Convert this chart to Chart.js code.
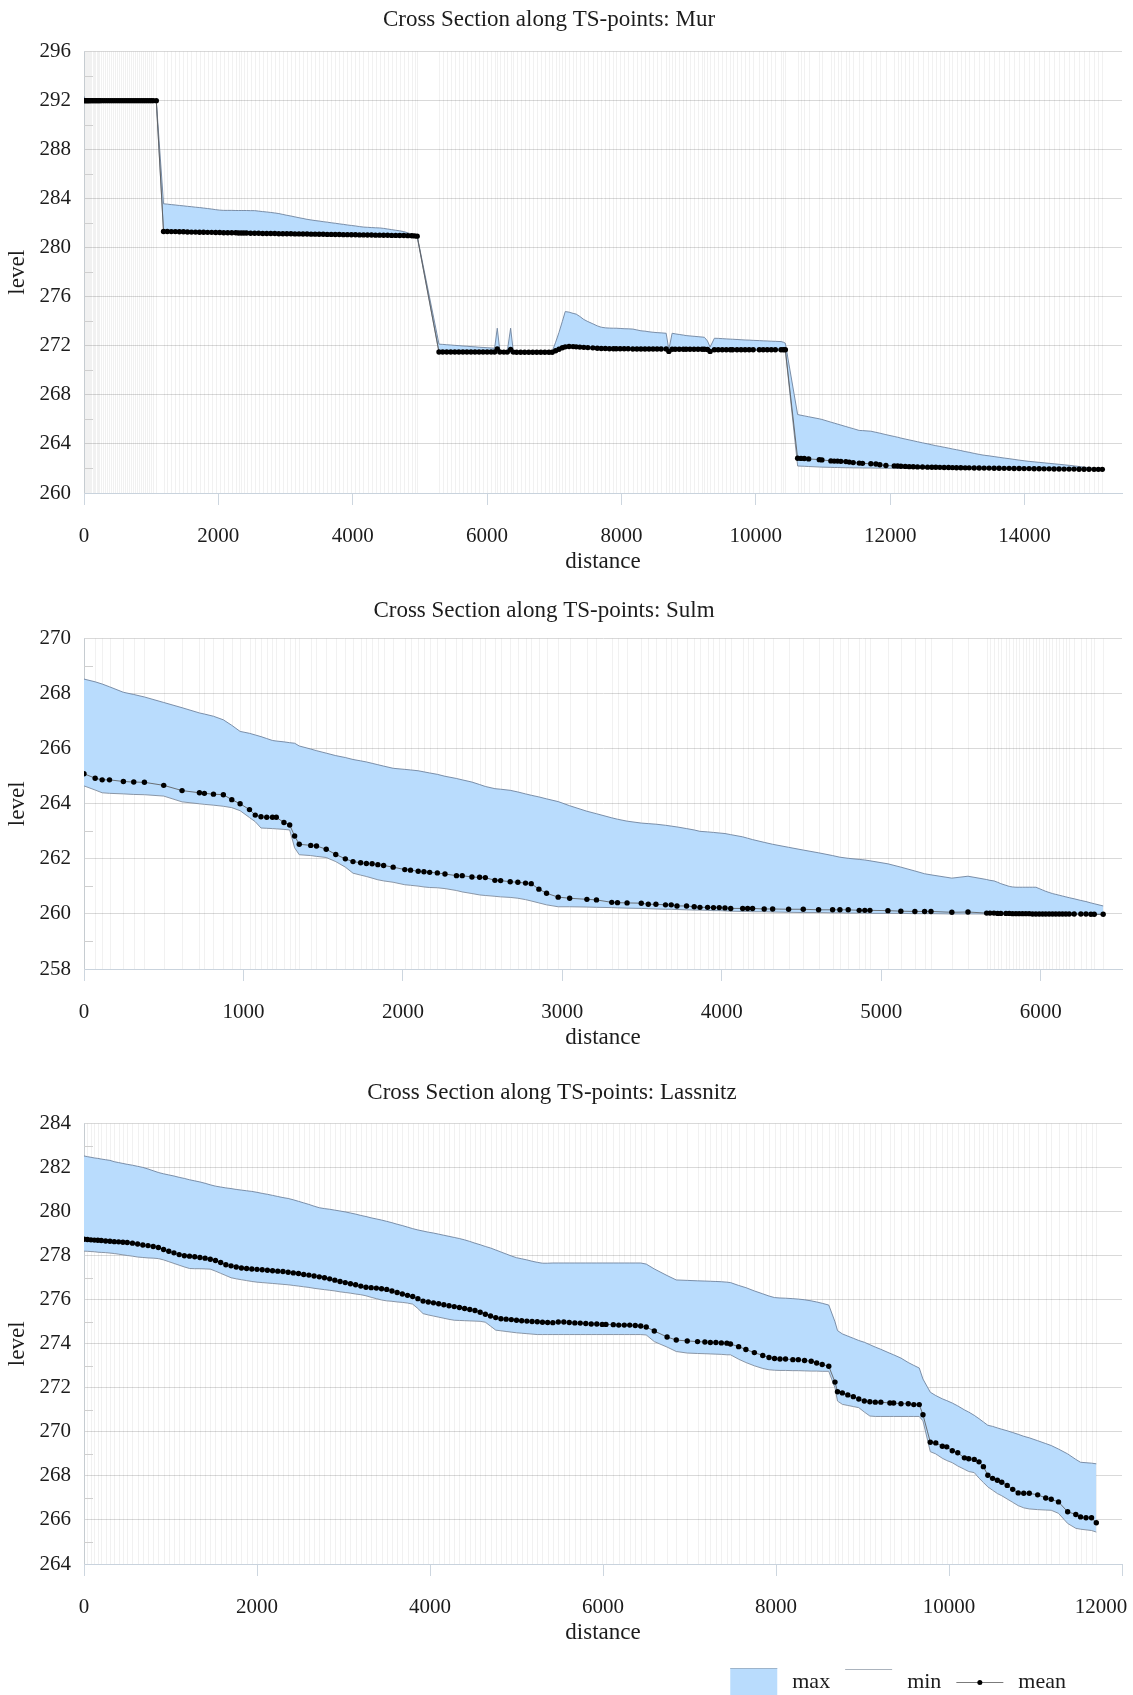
<!DOCTYPE html>
<html>
<head>
<meta charset="utf-8">
<title>Cross Sections along TS-points</title>
<script src="https://cdn.jsdelivr.net/npm/chart.js@4.4.1/dist/chart.umd.min.js"></script>
<style>
  html, body { margin: 0; padding: 0; background: #fff; }
  #page { position: relative; width: 1133px; height: 1695px; overflow: hidden; }
  #page canvas { position: absolute; left: 0; }
</style>
</head>
<body>
<div id="page">
  <canvas id="chartMur" width="1133" height="581" style="top:0px"></canvas>
  <canvas id="chartSulm" width="1133" height="476" style="top:581px"></canvas>
  <canvas id="chartLassnitz" width="1133" height="638" style="top:1057px"></canvas>
</div>
<script>
// ---------------- Mur ----------------
const murDistance = [
  0, 15, 30, 45, 60, 75, 90, 110, 130, 150,
  170, 190, 210, 230, 250, 280, 310, 340, 370, 400,
  430, 460, 490, 520, 550, 580, 610, 640, 670, 700,
  730, 760, 790, 820, 850, 880, 910, 940, 970, 1000,
  1030, 1076,
  1184, 1240, 1300, 1360, 1420, 1480, 1540, 1600, 1660, 1720,
  1780, 1840, 1900, 1960, 2020, 2080, 2140, 2200, 2260, 2300,
  2340, 2380, 2420, 2480, 2540, 2600, 2660, 2720, 2780, 2840,
  2900, 2960, 3020, 3080, 3140, 3200, 3260, 3320, 3380, 3440,
  3500, 3560, 3620, 3680, 3740, 3800, 3860, 3920, 3980, 4040,
  4100, 4160, 4220, 4280, 4340, 4400, 4460, 4520, 4580, 4640,
  4700, 4760, 4820, 4880, 4920, 4959,
  5284, 5340, 5400, 5460, 5520, 5580, 5640, 5700, 5760, 5820,
  5880, 5940, 6000, 6060, 6112, 6151, 6190, 6250, 6300, 6350,
  6390, 6440, 6500, 6560, 6620, 6680, 6740, 6800, 6860, 6920,
  6969, 7020, 7070, 7120, 7163, 7220, 7280, 7326, 7380, 7440,
  7500, 7574, 7640, 7700, 7760, 7820, 7880, 7921, 7980, 8040,
  8100, 8169, 8230, 8290, 8350, 8410, 8470, 8530, 8590, 8665,
  8705, 8754, 8800, 8860, 8920, 8962, 9020, 9080, 9140, 9200,
  9234, 9280, 9319, 9383, 9440, 9500, 9560, 9620, 9655, 9720,
  9780, 9840, 9900, 9960, 10052, 10110, 10170, 10230, 10290, 10375,
  10410, 10439,
  10622, 10672, 10721, 10786, 10944, 10983, 11117, 11167, 11216, 11266,
  11340, 11390, 11449, 11539, 11588, 11712, 11787, 11846, 11936, 12060,
  12110, 12159, 12224, 12283, 12343, 12407, 12481, 12556, 12620, 12679,
  12739, 12803, 12868, 12927, 12987, 13051, 13116, 13175, 13250, 13324,
  13398, 13472, 13547, 13621, 13696, 13770, 13844, 13919, 13993, 14067,
  14142, 14216, 14290, 14365, 14439, 14513, 14588, 14662, 14736, 14811,
  14885, 14959, 15034, 15098, 15157
];
const murMax = [
  292.35, 292.1, 292, 292, 292, 292, 292, 292, 292, 292,
  292, 292, 292, 292, 292, 292, 292, 292, 292, 292,
  292, 292, 292, 292, 292, 292, 292, 292, 292, 292,
  292, 292, 292, 292, 292, 292, 292, 292, 292, 292,
  292, 292,
  283.59, 283.56, 283.52, 283.49, 283.45, 283.42, 283.38, 283.35, 283.31, 283.28,
  283.24, 283.2, 283.16, 283.11, 283.07, 283.05, 283.05, 283.05, 283.04, 283.04,
  283.04, 283.04, 283.04, 283.03, 283.03, 282.99, 282.95, 282.92, 282.88, 282.84,
  282.79, 282.72, 282.65, 282.59, 282.52, 282.45, 282.39, 282.32, 282.27, 282.22,
  282.18, 282.13, 282.09, 282.04, 282.0, 281.95, 281.91, 281.86, 281.82, 281.78,
  281.73, 281.69, 281.67, 281.65, 281.63, 281.62, 281.58, 281.53, 281.48, 281.43,
  281.38, 281.32, 281.22, 281.11, 281.04, 280.98,
  272.14, 272.12, 272.09, 272.07, 272.04, 272.02, 271.99, 271.97, 271.94, 271.92,
  271.89, 271.87, 271.85, 271.83, 271.81, 273.44, 271.6, 271.55, 271.55, 273.44,
  271.55, 271.53, 271.53, 271.53, 271.53, 271.53, 271.53, 271.53, 271.53, 271.53,
  271.55, 272.3, 273.1, 274.0, 274.8, 274.75, 274.65, 274.59, 274.4, 274.15,
  273.98, 273.8, 273.63, 273.52, 273.47, 273.45, 273.44, 273.44, 273.42, 273.4,
  273.39, 273.37, 273.3, 273.23, 273.2, 273.15, 273.11, 273.08, 273.06, 273.03,
  271.7, 273.03, 272.98, 272.93, 272.88, 272.84, 272.81, 272.78, 272.75, 272.72,
  272.7, 272.4, 271.9, 272.62, 272.61, 272.59, 272.57, 272.55, 272.54, 272.52,
  272.5, 272.48, 272.47, 272.45, 272.43, 272.41, 272.4, 272.38, 272.37, 272.35,
  272.3, 272.22,
  266.4, 266.34, 266.29, 266.22, 266.05, 266.0, 265.78, 265.7, 265.62, 265.54,
  265.42, 265.34, 265.25, 265.1, 265.09, 265.04, 264.95, 264.88, 264.76, 264.61,
  264.55, 264.48, 264.4, 264.33, 264.26, 264.18, 264.09, 264.01, 263.93, 263.86,
  263.8, 263.73, 263.66, 263.59, 263.53, 263.46, 263.38, 263.32, 263.23, 263.15,
  263.08, 263.03, 262.97, 262.91, 262.85, 262.8, 262.74, 262.68, 262.63, 262.58,
  262.54, 262.5, 262.46, 262.42, 262.38, 262.34, 262.3, 262.26, 262.21, 262.16,
  262.11, 262.06, 262.0, 261.96, 261.93
];
const murMin = [
  292, 292, 292, 292, 292, 292, 292, 292, 292, 292,
  292, 292, 292, 292, 292, 292, 292, 292, 292, 292,
  292, 292, 292, 292, 292, 292, 292, 292, 292, 292,
  292, 292, 292, 292, 292, 292, 292, 292, 292, 292,
  292, 292,
  281.26, 281.26, 281.25, 281.25, 281.24, 281.24, 281.22, 281.21, 281.21, 281.2,
  281.2, 281.19, 281.19, 281.18, 281.17, 281.16, 281.16, 281.15, 281.15, 281.14,
  281.14, 281.13, 281.13, 281.12, 281.11, 281.11, 281.1, 281.1, 281.09, 281.09,
  281.08, 281.08, 281.07, 281.07, 281.06, 281.06, 281.05, 281.05, 281.04, 281.04,
  281.03, 281.03, 281.02, 281.02, 281.01, 281.01, 281.0, 281.0, 280.99, 280.99,
  280.98, 280.98, 280.97, 280.97, 280.96, 280.96, 280.95, 280.95, 280.94, 280.94,
  280.93, 280.93, 280.92, 280.92, 280.91, 280.9,
  271.45, 271.45, 271.45, 271.45, 271.45, 271.45, 271.45, 271.45, 271.45, 271.45,
  271.45, 271.45, 271.45, 271.45, 271.45, 271.45, 271.44, 271.44, 271.44, 271.44,
  271.43, 271.43, 271.43, 271.43, 271.43, 271.43, 271.43, 271.43, 271.43, 271.43,
  271.43, 271.52, 271.64, 271.76, 271.84, 271.87, 271.86, 271.84, 271.82, 271.8,
  271.78, 271.76, 271.73, 271.72, 271.71, 271.7, 271.7, 271.69, 271.69, 271.69,
  271.69, 271.67, 271.67, 271.67, 271.67, 271.67, 271.67, 271.67, 271.67, 271.67,
  271.5, 271.65, 271.65, 271.65, 271.65, 271.65, 271.65, 271.65, 271.65, 271.65,
  271.65, 271.63, 271.5, 271.62, 271.62, 271.62, 271.62, 271.62, 271.62, 271.62,
  271.62, 271.62, 271.62, 271.62, 271.62, 271.62, 271.62, 271.62, 271.62, 271.62,
  271.62, 271.62,
  262.2, 262.19, 262.18, 262.16, 262.12, 262.11, 262.09, 262.08, 262.08, 262.07,
  262.06, 262.06, 262.05, 262.05, 262.04, 262.04, 262.03, 262.03, 262.02, 262.02,
  262.02, 262.02, 262.01, 262.01, 262.01, 262.0, 262.0, 262.0, 262.0, 262.0,
  261.99, 261.99, 261.99, 261.99, 261.98, 261.98, 261.98, 261.98, 261.97, 261.97,
  261.97, 261.97, 261.96, 261.96, 261.96, 261.96, 261.95, 261.95, 261.95, 261.95,
  261.94, 261.94, 261.94, 261.94, 261.93, 261.93, 261.93, 261.93, 261.92, 261.92,
  261.92, 261.92, 261.91, 261.91, 261.9
];
const murMean = [
  292, 292, 292, 292, 292, 292, 292, 292, 292, 292,
  292, 292, 292, 292, 292, 292, 292, 292, 292, 292,
  292, 292, 292, 292, 292, 292, 292, 292, 292, 292,
  292, 292, 292, 292, 292, 292, 292, 292, 292, 292,
  292, 292,
  281.33, 281.33, 281.32, 281.32, 281.31, 281.31, 281.29, 281.28, 281.28, 281.27,
  281.27, 281.26, 281.26, 281.25, 281.24, 281.23, 281.23, 281.22, 281.22, 281.21,
  281.21, 281.2, 281.2, 281.19, 281.18, 281.18, 281.17, 281.17, 281.16, 281.16,
  281.15, 281.15, 281.14, 281.14, 281.13, 281.13, 281.12, 281.12, 281.11, 281.11,
  281.1, 281.1, 281.09, 281.09, 281.08, 281.08, 281.07, 281.07, 281.06, 281.06,
  281.05, 281.05, 281.04, 281.04, 281.03, 281.03, 281.02, 281.02, 281.01, 281.01,
  281.0, 281.0, 280.99, 280.98, 280.97, 280.95,
  271.5, 271.5, 271.5, 271.5, 271.5, 271.5, 271.5, 271.5, 271.5, 271.5,
  271.5, 271.5, 271.5, 271.5, 271.5, 271.75, 271.5, 271.49, 271.49, 271.7,
  271.49, 271.48, 271.48, 271.48, 271.48, 271.48, 271.48, 271.48, 271.48, 271.48,
  271.48, 271.6, 271.72, 271.85, 271.92, 271.95, 271.94, 271.92, 271.9, 271.88,
  271.86, 271.84, 271.8, 271.79, 271.78, 271.77, 271.77, 271.76, 271.76, 271.76,
  271.76, 271.74, 271.74, 271.74, 271.74, 271.74, 271.74, 271.74, 271.74, 271.74,
  271.55, 271.72, 271.72, 271.72, 271.72, 271.72, 271.72, 271.72, 271.72, 271.72,
  271.72, 271.7, 271.55, 271.68, 271.68, 271.68, 271.68, 271.68, 271.68, 271.68,
  271.68, 271.68, 271.68, 271.68, 271.68, 271.68, 271.68, 271.68, 271.68, 271.68,
  271.68, 271.68,
  262.83, 262.82, 262.81, 262.78, 262.72, 262.7, 262.62, 262.6, 262.6, 262.58,
  262.56, 262.52, 262.48, 262.44, 262.42, 262.38, 262.36, 262.3, 262.24, 262.21,
  262.2, 262.18, 262.17, 262.15, 262.14, 262.13, 262.12, 262.11, 262.1, 262.1,
  262.09, 262.08, 262.08, 262.07, 262.06, 262.06, 262.05, 262.05, 262.04, 262.04,
  262.03, 262.03, 262.02, 262.02, 262.01, 262.01, 262.0, 262.0, 261.99, 261.99,
  261.98, 261.98, 261.97, 261.97, 261.96, 261.96, 261.95, 261.95, 261.95, 261.94,
  261.94, 261.94, 261.93, 261.93, 261.93
];
const murDistanceTicks = [0, 2000, 4000, 6000, 8000, 10000, 12000, 14000];

// ---------------- Sulm ----------------
const sulmDistance = [
  0, 70, 114, 160, 247, 312, 379, 500, 615, 724, 755, 812, 874, 927, 979,
  1038, 1074, 1110, 1146, 1182, 1206, 1254, 1290, 1321, 1350,
  1422, 1458, 1519, 1579, 1639, 1687, 1735, 1771, 1807, 1843,
  1879, 1939, 2012, 2048, 2096, 2132, 2168, 2216, 2264, 2336,
  2372, 2433, 2481, 2517, 2577, 2613, 2673, 2721, 2769, 2805,
  2853, 2901, 2974, 3046, 3154, 3214, 3310, 3346, 3406, 3495,
  3539, 3587, 3647, 3683, 3719, 3779, 3827, 3863, 3911, 3948,
  3984, 4020, 4056, 4131, 4162, 4193, 4266, 4319, 4419, 4511,
  4607, 4695, 4741, 4793, 4862, 4897, 4929, 5042, 5123, 5211,
  5272, 5312, 5443, 5544, 5661, 5682, 5707, 5730, 5750, 5782,
  5803, 5824, 5845, 5865, 5886, 5907, 5928, 5949, 5970, 5991,
  6012, 6032, 6053, 6074, 6095, 6116, 6137, 6158, 6179, 6210,
  6252, 6284, 6315, 6336, 6392
];
const sulmMax = [
  268.53, 268.43, 268.35, 268.25, 268.05, 267.97, 267.88, 267.68, 267.49, 267.3, 267.26, 267.18, 267.05, 266.85, 266.63,
  266.56, 266.5, 266.44, 266.37, 266.3, 266.28, 266.25, 266.22, 266.2, 266.1,
  265.99, 265.93, 265.84, 265.75, 265.68, 265.61, 265.56, 265.52, 265.47, 265.42,
  265.37, 265.29, 265.25, 265.23, 265.2, 265.16, 265.12, 265.07, 265.0, 264.92,
  264.87, 264.79, 264.7, 264.63, 264.55, 264.53, 264.49, 264.43, 264.36, 264.31,
  264.25, 264.18, 264.08, 263.93, 263.73, 263.64, 263.49, 263.44, 263.37, 263.3,
  263.28, 263.26, 263.22, 263.19, 263.16, 263.1, 263.05, 263.0, 262.98, 262.96,
  262.94, 262.92, 262.88, 262.8, 262.75, 262.7, 262.6, 262.53, 262.42, 262.32,
  262.22, 262.12, 262.06, 262.02, 261.98, 261.96, 261.93, 261.82, 261.7, 261.56,
  261.46, 261.42, 261.3, 261.37, 261.25, 261.22, 261.2, 261.15, 261.1, 261.04,
  261.0, 260.98, 260.97, 260.97, 260.97, 260.97, 260.97, 260.97, 260.97, 260.92,
  260.87, 260.82, 260.78, 260.74, 260.71, 260.68, 260.65, 260.62, 260.59, 260.55,
  260.49, 260.45, 260.4, 260.37, 260.29
];
const sulmMin = [
  264.65, 264.5, 264.4, 264.38, 264.36, 264.34, 264.33, 264.28, 264.07, 264.0, 263.98, 263.95, 263.91, 263.86, 263.75,
  263.5, 263.35, 263.12, 263.11, 263.1, 263.09, 263.07, 263.05, 262.4, 262.15,
  262.12, 262.09, 262.05, 261.9, 261.7, 261.48, 261.41, 261.36, 261.3, 261.24,
  261.2, 261.15, 261.06, 261.04, 261.01, 260.98, 260.96, 260.95, 260.92, 260.85,
  260.8, 260.74, 260.69, 260.67, 260.64, 260.62, 260.6, 260.57, 260.52, 260.47,
  260.4, 260.33, 260.26, 260.26, 260.25, 260.24, 260.23, 260.22, 260.21, 260.2,
  260.19, 260.18, 260.17, 260.17, 260.16, 260.15, 260.14, 260.14, 260.13, 260.12,
  260.12, 260.11, 260.1, 260.09, 260.09, 260.08, 260.08, 260.07, 260.06, 260.05,
  260.05, 260.04, 260.04, 260.03, 260.03, 260.03, 260.02, 260.02, 260.02, 260.01,
  260.01, 260.01, 260.0, 260.0, 260.0, 260.0, 260.0, 260.0, 260.0, 260.0,
  260.0, 260.0, 260.0, 259.99, 259.99, 259.99, 259.99, 259.99, 259.99, 259.99,
  259.99, 259.99, 259.99, 259.99, 259.99, 259.99, 259.99, 259.99, 259.99, 259.99,
  259.99, 259.99, 259.98, 259.98, 259.98
];
const sulmMean = [
  265.09, 264.93, 264.87, 264.87, 264.81, 264.79, 264.78, 264.67, 264.48, 264.4, 264.38, 264.35, 264.33, 264.15, 264.0,
  263.79, 263.59, 263.53, 263.51, 263.51, 263.51, 263.32, 263.23, 262.83, 262.53,
  262.49, 262.47, 262.35, 262.16, 262.0, 261.9, 261.86, 261.83, 261.82, 261.79,
  261.76, 261.7, 261.61, 261.59, 261.55, 261.53, 261.51, 261.49, 261.45, 261.39,
  261.39, 261.34, 261.33, 261.32, 261.22, 261.21, 261.17, 261.15, 261.12, 261.1,
  260.9, 260.75, 260.61, 260.57, 260.53, 260.51, 260.42, 260.41, 260.4, 260.39,
  260.35, 260.35, 260.33, 260.33, 260.29, 260.29, 260.26, 260.24, 260.24, 260.23,
  260.23, 260.22, 260.2, 260.2, 260.2, 260.2, 260.18, 260.18, 260.17, 260.17,
  260.15, 260.15, 260.15, 260.15, 260.13, 260.13, 260.13, 260.12, 260.1, 260.09,
  260.09, 260.09, 260.06, 260.07, 260.03, 260.03, 260.03, 260.02, 260.02, 260.02,
  260.02, 260.01, 260.01, 260.01, 260.01, 260.01, 260.01, 260.0, 260.0, 260.0,
  260.0, 260.0, 260.0, 260.0, 260.0, 260.0, 260.0, 260.0, 260.0, 260.0,
  260.0, 260.0, 259.99, 259.99, 259.99
];
const sulmDistanceTicks = [0, 1000, 2000, 3000, 4000, 5000, 6000];

// ---------------- Lassnitz ----------------
const lassnitzDistance = [
  0, 40, 80, 120, 160, 200, 250, 300, 350, 400, 450, 500,
  560, 620, 680, 740, 800, 860, 920, 980, 1040, 1100,
  1160, 1220, 1280, 1340, 1400, 1460, 1520, 1580, 1640, 1700,
  1760, 1820, 1880, 1940, 2000, 2060, 2120, 2180, 2240, 2300,
  2360, 2420, 2480, 2540, 2600, 2660, 2720, 2780, 2840, 2900,
  2960, 3020, 3080, 3140, 3200, 3260, 3320, 3380, 3440, 3500,
  3560, 3620, 3680, 3740, 3800, 3860, 3920, 3980, 4040, 4100,
  4160, 4220, 4280, 4340, 4400, 4460, 4520, 4580, 4640, 4700,
  4760, 4820, 4880, 4940, 5000, 5060, 5120, 5180, 5240, 5300,
  5360, 5420,
  5483, 5547, 5610, 5674, 5737, 5801, 5864, 5928, 5991, 6034,
  6119, 6182, 6246, 6309, 6373, 6436, 6500, 6593, 6741, 6847,
  6974, 7093, 7178, 7241, 7305, 7368, 7432, 7474, 7568, 7652,
  7750, 7847, 7919, 7983, 8046, 8110, 8195, 8258, 8330, 8407,
  8470, 8534, 8610, 8682, 8711, 8767, 8830, 8894, 8957, 9021,
  9085, 9148, 9212, 9317, 9360, 9445, 9529, 9593, 9656, 9699,
  9784, 9847, 9923, 9974, 10038, 10101, 10178, 10228, 10292, 10347,
  10398, 10449, 10504, 10559, 10610, 10673, 10737, 10800, 10864, 10928,
  11025, 11118, 11182, 11266, 11372, 11466, 11521, 11584, 11648, 11703
];
const lassnitzMax = [
  282.53, 282.5, 282.47, 282.44, 282.42, 282.39, 282.36, 282.33, 282.27, 282.23, 282.19, 282.15,
  282.11, 282.06, 282.01, 281.94, 281.86, 281.78, 281.72, 281.67, 281.62, 281.56,
  281.51, 281.45, 281.4, 281.35, 281.29, 281.22, 281.16, 281.12, 281.08, 281.05,
  281.01, 280.98, 280.95, 280.92, 280.88, 280.83, 280.79, 280.74, 280.69, 280.64,
  280.6, 280.54, 280.47, 280.4, 280.33, 280.25, 280.18, 280.14, 280.11, 280.07,
  280.03, 279.99, 279.94, 279.89, 279.83, 279.78, 279.72, 279.67, 279.62, 279.56,
  279.5, 279.43, 279.37, 279.3, 279.23, 279.17, 279.12, 279.07, 279.03, 278.98,
  278.93, 278.88, 278.83, 278.78, 278.72, 278.65, 278.57, 278.5, 278.42, 278.35,
  278.26, 278.17, 278.08, 277.99, 277.91, 277.86, 277.81, 277.75, 277.7, 277.66,
  277.66, 277.67,
  277.67, 277.67, 277.67, 277.67, 277.67, 277.67, 277.67, 277.67, 277.67, 277.67,
  277.67, 277.67, 277.67, 277.67, 277.67, 277.67, 277.62, 277.4, 277.1, 276.9,
  276.88, 276.86, 276.85, 276.84, 276.83, 276.82, 276.8, 276.78, 276.65, 276.55,
  276.4, 276.27, 276.17, 276.1, 276.08, 276.07, 276.05, 276.03, 276.0, 275.95,
  275.9, 275.84, 275.76, 275.0, 274.6, 274.45, 274.35, 274.25, 274.15, 274.07,
  273.96, 273.85, 273.75, 273.57, 273.5, 273.35, 273.15, 273.02, 272.9, 272.4,
  271.8, 271.65, 271.5, 271.42, 271.31, 271.18, 271.0, 270.9, 270.75, 270.6,
  270.45, 270.3, 270.25, 270.18, 270.12, 270.05, 269.97, 269.89, 269.8, 269.73,
  269.6, 269.47, 269.38, 269.22, 269.0, 268.75, 268.62, 268.6, 268.58, 268.55
];
const lassnitzMin = [
  278.21, 278.2, 278.19, 278.18, 278.16, 278.15, 278.14, 278.12, 278.1, 278.07, 278.04, 278.01,
  277.98, 277.94, 277.92, 277.9, 277.89, 277.87, 277.81, 277.73, 277.65, 277.57,
  277.49, 277.42, 277.41, 277.41, 277.4, 277.39, 277.3, 277.2, 277.1, 277.0,
  276.95, 276.91, 276.87, 276.83, 276.8, 276.78, 276.76, 276.74, 276.72, 276.7,
  276.68, 276.65, 276.62, 276.59, 276.56, 276.52, 276.49, 276.46, 276.43, 276.4,
  276.36, 276.33, 276.3, 276.26, 276.23, 276.18, 276.11, 276.05, 275.99, 275.95,
  275.93, 275.9, 275.88, 275.85, 275.8, 275.6, 275.37, 275.31, 275.26, 275.21,
  275.16, 275.11, 275.07, 275.06, 275.05, 275.04, 275.03, 275.02, 274.98, 274.8,
  274.62, 274.59, 274.56, 274.53, 274.5, 274.48, 274.46, 274.44, 274.42, 274.42,
  274.42, 274.42,
  274.42, 274.42, 274.42, 274.42, 274.42, 274.42, 274.42, 274.42, 274.42, 274.42,
  274.42, 274.42, 274.42, 274.42, 274.42, 274.42, 274.4, 274.1, 273.85, 273.65,
  273.58, 273.56, 273.55, 273.54, 273.53, 273.52, 273.5, 273.5, 273.3, 273.15,
  273.0, 272.88, 272.82, 272.8, 272.79, 272.79, 272.78, 272.78, 272.77, 272.76,
  272.76, 272.75, 272.75, 272.0, 271.4, 271.25, 271.2, 271.15, 271.1, 270.9,
  270.72, 270.7, 270.7, 270.7, 270.7, 270.7, 270.7, 270.7, 270.7, 270.5,
  269.1, 269.0, 268.8, 268.7, 268.6, 268.45, 268.3, 268.2, 268.15, 267.9,
  267.7, 267.5, 267.35, 267.2, 267.1, 266.95, 266.8, 266.65, 266.55, 266.5,
  266.47, 266.45, 266.44, 266.3, 265.84, 265.62, 265.58, 265.55, 265.52, 265.45
];
const lassnitzMean = [
  278.75, 278.74, 278.72, 278.71, 278.7, 278.69, 278.67, 278.66, 278.64, 278.63, 278.61, 278.6,
  278.57, 278.53, 278.49, 278.46, 278.42, 278.37, 278.28, 278.2, 278.13, 278.05,
  278.0, 277.98, 277.95, 277.92, 277.89, 277.84, 277.78, 277.69, 277.59, 277.54,
  277.49, 277.44, 277.42, 277.4, 277.38, 277.36, 277.34, 277.32, 277.3, 277.28,
  277.25, 277.22, 277.19, 277.15, 277.12, 277.08, 277.04, 277.0, 276.95, 276.89,
  276.83, 276.78, 276.73, 276.68, 276.62, 276.57, 276.55, 276.53, 276.5, 276.47,
  276.4, 276.33, 276.26, 276.2, 276.15, 276.05, 275.94, 275.9, 275.86, 275.82,
  275.77, 275.73, 275.69, 275.65, 275.6, 275.56, 275.51, 275.43, 275.34, 275.26,
  275.19, 275.14, 275.12, 275.1, 275.07, 275.05, 275.03, 275.01, 275.0, 274.98,
  274.97, 274.96,
  274.99, 274.99, 274.97, 274.95, 274.94, 274.92, 274.9, 274.9, 274.88, 274.88,
  274.87, 274.85, 274.85, 274.85, 274.83, 274.81, 274.76, 274.58, 274.31, 274.17,
  274.13, 274.1, 274.08, 274.06, 274.06, 274.04, 274.03, 273.99, 273.87, 273.74,
  273.6, 273.47, 273.38, 273.33, 273.31, 273.31, 273.28, 273.28, 273.24, 273.21,
  273.13, 273.06, 272.98, 272.26, 271.82, 271.77, 271.68, 271.6, 271.49, 271.4,
  271.37, 271.35, 271.35, 271.31, 271.31, 271.28, 271.28, 271.24, 271.24, 270.78,
  269.53, 269.5, 269.35, 269.32, 269.14, 269.05, 268.82, 268.78, 268.75, 268.64,
  268.42, 268.03, 267.89, 267.8, 267.71, 267.57, 267.39, 267.23, 267.21, 267.21,
  267.14, 267.0, 266.94, 266.82, 266.37, 266.25, 266.14, 266.1, 266.1, 265.87
];
const lassnitzDistanceTicks = [0, 2000, 4000, 6000, 8000, 10000, 12000];

// ---------------- shared look ----------------
const FONT = "'Liberation Serif', 'DejaVu Serif', serif";
const TEXT = '#1c1c1c';
const FILL_BLUE = '#b9dcfd';
const MAX_LINE = 'rgba(112,132,158,0.9)';
const MIN_LINE = 'rgba(128,140,156,0.9)';
const MEAN_LINE = 'rgba(90,90,90,0.85)';
const GRID = '#d9d9d9';
const POINT_GRID = 'rgba(0,0,0,0.055)';
// a label sitting on the right edge of the plot is pulled inwards so it stays on the page
const EDGE_LABEL_PAD = '\u2007\u2007\u2007\u2007';

Chart.defaults.font.family = FONT;
Chart.defaults.color = TEXT;

// thin vertical line at every TS-point along the section
const pointGrid = {
  id: 'pointGrid',
  beforeDatasetsDraw(chart) {
    const {ctx, chartArea: a, scales: {x}} = chart;
    const pts = chart.data.datasets[2].data;
    ctx.save();
    ctx.lineWidth = 1;
    ctx.strokeStyle = POINT_GRID;
    for (const p of pts) {
      const px = Math.round(x.getPixelForValue(p.x)) + 0.5;
      ctx.beginPath();
      ctx.moveTo(px, a.top);
      ctx.lineTo(px, a.bottom);
      ctx.stroke();
    }
    ctx.restore();
  }
};

// short minor ticks on the level axis, half way between the labelled ticks
const minorTicks = {
  id: 'minorTicks',
  beforeDatasetsDraw(chart) {
    const {ctx, chartArea: a, scales: {y}} = chart;
    ctx.save();
    ctx.lineWidth = 1;
    ctx.strokeStyle = '#cfcfcf';
    ctx.beginPath();
    for (let i = 0; i < y.ticks.length - 1; i++) {
      const v = (y.ticks[i].value + y.ticks[i + 1].value) / 2;
      const py = Math.round(y.getPixelForValue(v)) + 0.5;
      ctx.moveTo(a.left, py);
      ctx.lineTo(a.left + 9, py);
    }
    ctx.stroke();
    ctx.restore();
  }
};

// the page titles sit slightly left of the plot centre
const titlePlacement = {
  id: 'titlePlacement',
  afterLayout(chart, args, opts) {
    const t = chart.titleBlock;
    if (t && opts.center) {
      t.left = 0;
      t.right = 2 * opts.center;
      t.width = t.right;
    }
  }
};

// legend row under the last chart: area swatch, min line, mean line with marker
const sectionLegend = {
  id: 'sectionLegend',
  afterDraw(chart) {
    const {ctx} = chart;
    const ds = chart.data.datasets;
    const sw = 47, gap = 15;
    ctx.save();
    ctx.font = '22px ' + FONT;
    ctx.textBaseline = 'middle';
    const widths = ds.map(d => ctx.measureText(d.label).width);
    let total = 0;
    widths.forEach(w => { total += sw + gap + w + gap; });
    total -= gap;
    let x = chart.width - 67 - total;
    const cy = chart.height - 13;
    ds.forEach((d, i) => {
      if (i === 0) {
        ctx.fillStyle = d.backgroundColor;
        ctx.fillRect(x, cy - 14, sw, 28);
        ctx.strokeStyle = 'rgba(150,170,190,0.8)';
        ctx.lineWidth = 1;
        ctx.beginPath(); ctx.moveTo(x, cy - 13.5); ctx.lineTo(x + sw, cy - 13.5); ctx.stroke();
      } else if (i === 1) {
        ctx.strokeStyle = 'rgba(150,160,172,0.8)';
        ctx.lineWidth = 1;
        ctx.beginPath(); ctx.moveTo(x, cy - 12.5); ctx.lineTo(x + sw, cy - 12.5); ctx.stroke();
      } else {
        ctx.strokeStyle = 'rgba(90,90,90,0.8)';
        ctx.lineWidth = 1;
        ctx.beginPath(); ctx.moveTo(x, cy + 0.5); ctx.lineTo(x + sw, cy + 0.5); ctx.stroke();
        ctx.fillStyle = '#000';
        ctx.beginPath(); ctx.arc(x + sw / 2, cy + 0.5, 2.5, 0, Math.PI * 2); ctx.fill();
      }
      ctx.fillStyle = TEXT;
      ctx.fillText(d.label, x + sw + gap, cy);
      x += sw + gap + widths[i] + gap;
    });
    ctx.restore();
  }
};

function points(dist, vals) {
  return dist.map((d, i) => ({x: d, y: vals[i]}));
}

function sectionChart(id, o) {
  const plugins = [pointGrid, minorTicks, titlePlacement];
  if (o.legend) plugins.push(sectionLegend);
  return new Chart(document.getElementById(id), {
    type: 'line',
    data: {
      datasets: [
        {label: 'max', order: 3, data: points(o.distance, o.max), borderColor: MAX_LINE, borderWidth: 1,
         backgroundColor: FILL_BLUE, fill: '+1', pointRadius: 0, tension: 0},
        {label: 'min', order: 2, data: points(o.distance, o.min), borderColor: MIN_LINE, borderWidth: 1,
         backgroundColor: MIN_LINE, fill: false, pointRadius: 0, tension: 0},
        {label: 'mean', order: 1, data: points(o.distance, o.mean), borderColor: MEAN_LINE, borderWidth: 1,
         fill: false, pointRadius: 2.7, pointBackgroundColor: '#000', pointBorderWidth: 0,
         pointStyle: 'circle', tension: 0}
      ]
    },
    options: {
      responsive: false,
      devicePixelRatio: 1,
      animation: false,
      events: [],
      layout: {padding: {left: 0, right: 11, top: 0, bottom: o.legend ? 43 : 0}},
      plugins: {
        legend: {display: false},
        tooltip: {enabled: false},
        titlePlacement: {center: o.titleCenter},
        title: {
          display: true,
          text: o.title,
          color: TEXT,
          font: {family: FONT, size: 23, weight: 'normal', lineHeight: 1.2},
          padding: o.titlePadding
        }
      },
      scales: {
        x: {
          type: 'linear',
          min: 0,
          max: o.xMax,
          afterFit(s) { s.height = 88; s.paddingLeft = 0; s.paddingRight = 0; },
          afterBuildTicks(s) { s.ticks = o.xTicks.map(v => ({value: v})); },
          ticks: {
            maxRotation: 0,
            autoSkip: false,
            padding: 19,
            color: TEXT,
            font: {family: FONT, size: 21},
            callback: v => (v === o.xMax ? String(v) + EDGE_LABEL_PAD : String(v))
          },
          grid: {drawOnChartArea: false, drawTicks: true, tickLength: 12, color: '#cdd6df'},
          border: {display: true, color: '#c9d3dd', width: 1},
          title: {display: true, text: 'distance', color: TEXT,
                  font: {family: FONT, size: 23, lineHeight: 1.2}, padding: {top: 0, bottom: 5}}
        },
        y: {
          type: 'linear',
          min: o.yMin,
          max: o.yMax,
          afterFit(s) { s.width = 84; },
          ticks: {
            stepSize: o.yStep,
            padding: 13,
            color: TEXT,
            font: {family: FONT, size: 21},
            callback: v => String(v)
          },
          grid: {drawTicks: false, color: GRID, lineWidth: 1},
          border: {display: true, color: '#d2d8de', width: 1},
          title: {display: true, text: 'level', color: TEXT,
                  font: {family: FONT, size: 23, lineHeight: 1.2}, padding: {top: 4, bottom: 0}}
        }
      }
    },
    plugins
  });
}

sectionChart('chartMur', {
  title: 'Cross Section along TS-points: Mur',
  titlePadding: {top: 6, bottom: 18},
  titleCenter: 549,
  distance: murDistance, max: murMax, min: murMin, mean: murMean,
  xMax: 15450, xTicks: murDistanceTicks, yMin: 260, yMax: 296, yStep: 4
});
sectionChart('chartSulm', {
  title: 'Cross Section along TS-points: Sulm',
  titlePadding: {top: 16, bottom: 14},
  titleCenter: 544,
  distance: sulmDistance, max: sulmMax, min: sulmMin, mean: sulmMean,
  xMax: 6510, xTicks: sulmDistanceTicks, yMin: 258, yMax: 270, yStep: 2
});
sectionChart('chartLassnitz', {
  title: 'Cross Section along TS-points: Lassnitz',
  titlePadding: {top: 22, bottom: 17},
  titleCenter: 552,
  distance: lassnitzDistance, max: lassnitzMax, min: lassnitzMin, mean: lassnitzMean,
  xMax: 12000, xTicks: lassnitzDistanceTicks, yMin: 264, yMax: 284, yStep: 2,
  legend: true
});
</script>
</body>
</html>
